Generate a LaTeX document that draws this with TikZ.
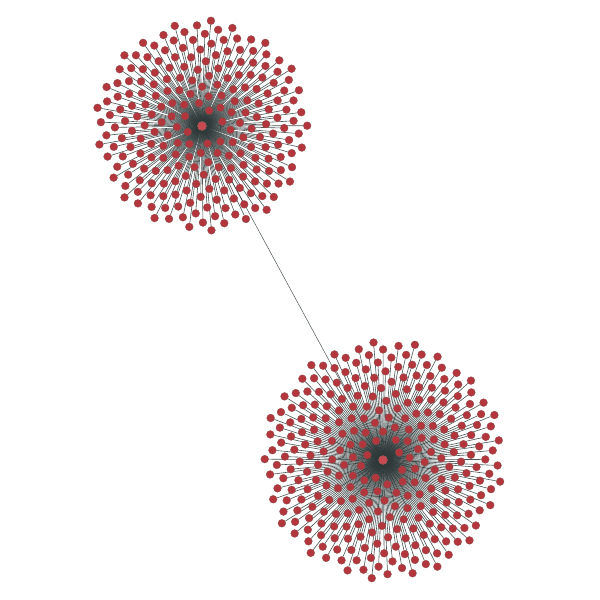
\documentclass[tikz,border=0pt]{standalone}
\usetikzlibrary{backgrounds}
\definecolor{leafred}{HTML}{B3363C}
\definecolor{hubred}{HTML}{C64A50}
\definecolor{leafline}{HTML}{8A4A4C}
\definecolor{edgegray}{HTML}{2E3838}
\tikzset{
  leaf/.style={circle,fill=leafred,draw=leafline,line width=0.3pt,inner sep=0pt,minimum size=7.8pt},
  hub/.style={circle,fill=hubred,draw=leafline,line width=0.3pt,inner sep=0pt,minimum size=9pt},
  edge/.style={draw=edgegray,line width=0.6pt,opacity=0.85},
}
\begin{document}
\begin{tikzpicture}[x=1pt,y=-1pt]
\useasboundingbox (0,0) rectangle (600,600);
\node[hub] (ha) at (202,126) {};
\node[hub] (hb) at (383,460) {};
\foreach \i in {1,...,230}{
  \pgfmathsetmacro{\r}{6.95*sqrt(\i+4)}
  \pgfmathsetmacro{\f}{\i*0.381966}
  \pgfmathsetmacro{\t}{360*(\f-floor(\f))+20}
  \node[leaf] (a\i) at ([shift={(202,126)}]\t:\r) {};
}
\foreach \i in {1,...,290}{
  \pgfmathsetmacro{\r}{7*sqrt(\i+4.5)}
  \pgfmathsetmacro{\f}{\i*0.381966}
  \pgfmathsetmacro{\t}{360*(\f-floor(\f))+60}
  \node[leaf] (b\i) at ([shift={(383,460)}]\t:\r) {};
}
\begin{pgfonlayer}{background}
\draw[edge,line width=0.5pt] (ha) -- (hb);
\foreach \i in {1,...,230}{ \draw[edge] (ha) -- (a\i); }
\foreach \i in {1,...,290}{ \draw[edge] (hb) -- (b\i); }
\end{pgfonlayer}
\end{tikzpicture}
\end{document}
